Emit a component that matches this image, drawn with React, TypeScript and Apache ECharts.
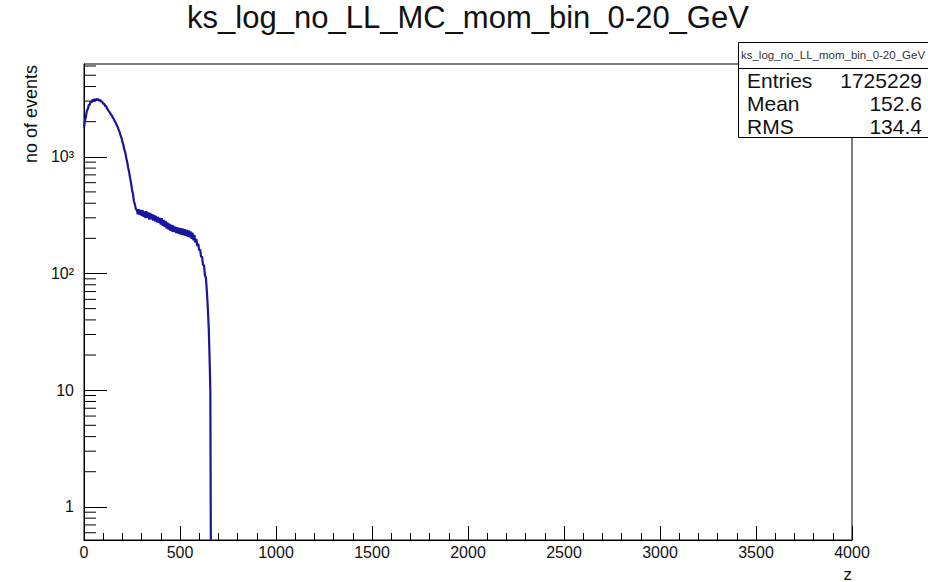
import React, { useEffect, useRef } from "react";
import * as echarts from "echarts";

const titleText = "ks_log_no_LL_MC_mom_bin_0-20_GeV";
const statsTitle = "ks_log_no_LL_mom_bin_0-20_GeV";
const statsNames = ["Entries", "Mean", "RMS"];
const statsValues = ["1725229", "152.6", "134.4"];
const xTitle = "z";
const yTitle = "no of events";

// bin positions (z) and counts
const zValues = [
  0, 5, 10, 15, 20, 25, 30, 35, 40, 45, 50, 55, 60, 65, 70, 75, 80, 85, 90, 95,
  100, 105, 110, 115, 120, 125, 130, 135, 140, 145, 150, 155, 160, 165, 170, 175, 180, 185, 190, 195,
  200, 205, 210, 215, 220, 225, 230, 235, 240, 245, 250, 255, 260, 265, 270, 275, 280, 285, 290, 295,
  300, 305, 310, 315, 320, 325, 330, 335, 340, 345, 350, 355, 360, 365, 370, 375, 380, 385, 390, 395,
  400, 405, 410, 415, 420, 425, 430, 435, 440, 445, 450, 455, 460, 465, 470, 475, 480, 485, 490, 495,
  500, 505, 510, 515, 520, 525, 530, 535, 540, 545, 550, 555, 560, 565, 570, 575, 580, 585, 590, 595,
  600, 605, 610, 615, 620, 625, 630, 635, 640, 645, 650, 653, 656, 658, 660, 661, 662,
];
const counts = [
  1790, 2050, 2190, 2500, 2550, 2790, 2800, 2980, 2920, 3100, 2990, 3140, 3030, 3150, 3040, 3130, 3000, 3080, 2940, 2980,
  2840, 2860, 2720, 2730, 2590, 2530, 2450, 2390, 2310, 2260, 2170, 2110, 2010, 1960, 1870, 1810, 1710, 1640, 1530, 1460,
  1340, 1270, 1150, 1090, 975, 905, 805, 740, 660, 595, 525, 480, 418, 392, 356, 352, 322, 356, 318, 350,
  312, 348, 306, 340, 298, 342, 300, 333, 290, 330, 292, 322, 284, 318, 280, 312, 274, 306, 270, 300,
  262, 298, 256, 288, 250, 282, 242, 274, 238, 268, 232, 262, 228, 258, 226, 252, 222, 250, 220, 246,
  216, 244, 214, 242, 212, 240, 210, 236, 206, 234, 204, 230, 198, 224, 192, 214, 184, 198, 172, 180,
  158, 160, 138, 140, 118, 118, 96, 92, 70, 50, 33, 22, 14, 10, 1, 1, 0.1,
];

const yMinorTicks = [
  0.6, 0.7, 0.8, 0.9,
  2, 3, 4, 5, 6, 7, 8, 9,
  20, 30, 40, 50, 60, 70, 80, 90,
  200, 300, 400, 500, 600, 700, 800, 900,
  2000, 3000, 4000, 5000, 6000,
];
const yDecadeLabels = ["1", "10", "10\u00b2", "10\u00b3"];

const FONT = "Liberation Sans";

export default function App() {
  const ref = useRef<HTMLDivElement>(null);
  useEffect(() => {
    if (!ref.current) return;
    const chart = echarts.init(ref.current, undefined, { renderer: "svg" });
    const lineData = zValues.map((z, i) => [z, counts[i]]);
    const option: any = {
      animation: false,
      backgroundColor: "#ffffff",
      textStyle: { fontFamily: FONT },
      grid: {
        left: 84,
        right: 76,
        top: 64,
        bottom: 42,
        show: true,
        borderColor: "#000",
        borderWidth: 1,
        backgroundColor: "transparent",
      },
      xAxis: {
        type: "value",
        min: 0,
        max: 4000,
        interval: 500,
        axisLine: { show: true, lineStyle: { color: "#000", width: 1 } },
        axisTick: { show: true, inside: true, length: 14, lineStyle: { color: "#000" } },
        minorTick: { show: true, splitNumber: 5, length: 7, lineStyle: { color: "#000" } },
        splitLine: { show: false },
        axisLabel: {
          color: "#111",
          fontSize: 16,
          fontFamily: FONT,
          margin: 4,
          formatter: (v: number) => String(v),
        },
      },
      yAxis: {
        type: "log",
        logBase: 10,
        min: 0.52,
        max: 6240,
        axisLine: { show: true, lineStyle: { color: "#000", width: 1 } },
        axisTick: { show: true, inside: true, length: 23, lineStyle: { color: "#000" } },
        splitLine: { show: false },
        axisLabel: {
          color: "#111",
          fontSize: 16,
          fontFamily: FONT,
          margin: 10,
          showMinLabel: false,
          showMaxLabel: false,
          formatter: (v: number) => {
            const e = Math.log10(v);
            const r = Math.round(e);
            if (Math.abs(e - r) < 1e-6 && r >= 0 && r < yDecadeLabels.length) return yDecadeLabels[r];
            return "";
          },
        },
      },
      series: [
        {
          type: "line",
          data: lineData,
          symbol: "none",
          showSymbol: false,
          clip: true,
          lineStyle: { color: "#16169e", width: 2.2 },
          z: 5,
        },
        {
          type: "custom",
          silent: true,
          data: yMinorTicks.map((v) => [0, v]),
          renderItem: (params: any, api: any) => {
            const p = api.coord([0, api.value(1)]);
            return {
              type: "line",
              shape: { x1: p[0], y1: p[1], x2: p[0] + 12, y2: p[1] },
              style: { stroke: "#000", lineWidth: 1 },
            };
          },
          z: 4,
        },
      ],
      graphic: [
        {
          type: "text",
          x: 468,
          y: 17,
          style: {
            text: titleText,
            fontSize: 31,
            fontFamily: FONT,
            fill: "#111",
            textAlign: "center",
            textVerticalAlign: "middle",
          },
        },
        {
          type: "text",
          x: 31,
          y: 65,
          rotation: Math.PI / 2,
          style: {
            text: yTitle,
            fontSize: 18,
            fontFamily: FONT,
            fill: "#111",
            textAlign: "right",
            textVerticalAlign: "middle",
          },
        },
        {
          type: "text",
          x: 852,
          y: 574,
          style: {
            text: xTitle,
            fontSize: 17,
            fontFamily: FONT,
            fill: "#111",
            textAlign: "right",
            textVerticalAlign: "middle",
          },
        },
        {
          type: "group",
          z: 100,
          children: [
            {
              type: "rect",
              shape: { x: 738.5, y: 42.5, width: 192, height: 95 },
              style: { fill: "#fff", stroke: "#000", lineWidth: 1 },
            },
            {
              type: "line",
              shape: { x1: 738.5, y1: 68.5, x2: 930, y2: 68.5 },
              style: { stroke: "#000", lineWidth: 1 },
            },
            {
              type: "text",
              x: 833,
              y: 55,
              style: {
                text: statsTitle,
                fontSize: 11.5,
                fontFamily: FONT,
                fill: "#333",
                textAlign: "center",
                textVerticalAlign: "middle",
              },
            },
            ...statsNames.map((n, i) => ({
              type: "text",
              x: 747,
              y: 80 + i * 23,
              style: {
                text: n,
                fontSize: 21,
                fontFamily: FONT,
                fill: "#111",
                textAlign: "left",
                textVerticalAlign: "middle",
              },
            })),
            ...statsValues.map((n, i) => ({
              type: "text",
              x: 922,
              y: 80 + i * 23,
              style: {
                text: n,
                fontSize: 21,
                fontFamily: FONT,
                fill: "#111",
                textAlign: "right",
                textVerticalAlign: "middle",
              },
            })),
          ],
        },
      ],
    };
    chart.setOption(option);
    return () => chart.dispose();
  }, []);
  return (
    <div
      ref={ref}
      style={{ position: "fixed", left: 0, top: 0, width: 928, height: 582, background: "#fff" }}
    />
  );
}
